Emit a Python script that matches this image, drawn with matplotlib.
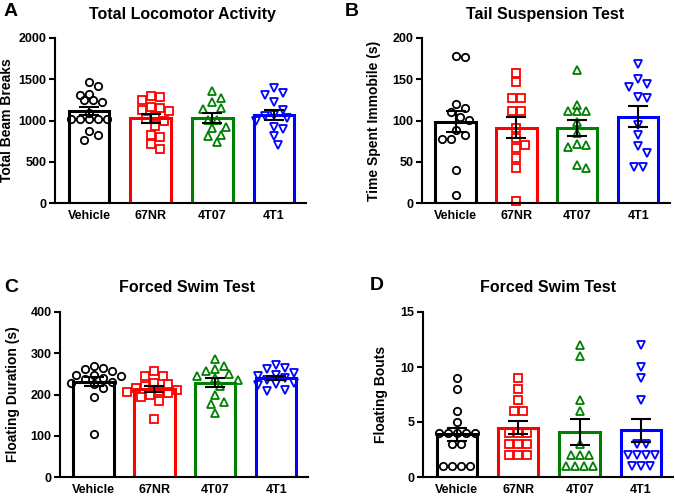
import numpy as np
import matplotlib
matplotlib.use('Agg')
import matplotlib.pyplot as plt

plt.rcParams['font.family'] = ['Liberation Sans', 'DejaVu Sans']
plt.rcParams['font.weight'] = 'bold'

groups = ['Vehicle', '67NR', '4T07', '4T1']
colors = ['black', 'red', 'green', 'blue']
markers = ['o', 's', '^', 'v']

# A - Total Locomotor Activity (beam breaks)
loco_vehicle = [1467, 1414, 1321, 1309, 1244, 1220, 1244, 1018, 1018, 1018, 1018, 1018, 1091, 869, 768, 828]
loco_67nr = [1293, 1281, 1244, 1160, 1152, 1130, 1110, 1060, 1020, 1000, 930, 830, 800, 710, 650]
loco_4t07 = [1362, 1273, 1224, 1152, 1139, 1010, 1010, 921, 909, 828, 808, 735]
loco_4t1 = [1394, 1313, 1333, 1220, 1131, 1063, 1050, 1030, 990, 921, 897, 808, 707]

# B - Tail Suspension Test (s)
tst_vehicle = [178.6, 177, 120, 115, 104, 101, 110, 82, 77.6, 78, 88, 40, 10]
tst_67nr = [157.6, 146.7, 127, 127, 111.5, 111.5, 91, 79, 70.7, 66.7, 55, 42, 3]
tst_4t07 = [161, 119, 111, 111, 111, 98, 85, 70, 68, 72, 43, 46]
tst_4t1 = [169, 150, 144, 141, 128, 127, 95, 83, 69, 61, 44, 44]

# C - Forced Swim Test, floating duration (s)
fst_vehicle = [270, 265, 263, 258, 248, 247, 245, 241, 237, 230, 227, 225, 215, 195, 105]
fst_67nr = [258, 246, 244, 228, 225, 220, 215, 212, 208, 205, 203, 200, 195, 185, 140]
fst_4t07 = [285, 270, 262, 256, 250, 245, 240, 235, 220, 198, 181, 178, 155]
fst_4t1 = [272, 265, 263, 251, 248, 245, 240, 235, 228, 225, 222, 212, 209]

# D - Forced Swim Test, floating bouts
bouts_vehicle = [9, 8, 6, 5, 4, 4, 4, 4, 4, 3, 3, 1, 1, 1, 1]
bouts_67nr = [9, 8, 7, 6, 6, 4, 4, 4, 3, 3, 3, 2, 2, 2]
bouts_4t07 = [12, 11, 7, 6, 3, 2, 2, 2, 1, 1, 1, 1]
bouts_4t1 = [12, 10, 9, 7, 3, 3, 2, 2, 2, 2, 1, 1, 1]

panels = [
    ('A', 'Total Locomotor Activity', 'Total Beam Breaks',
     [loco_vehicle, loco_67nr, loco_4t07, loco_4t1], 2000, 500),
    ('B', 'Tail Suspension Test', 'Time Spent Immobile (s)',
     [tst_vehicle, tst_67nr, tst_4t07, tst_4t1], 200, 50),
    ('C', 'Forced Swim Test', 'Floating Duration (s)',
     [fst_vehicle, fst_67nr, fst_4t07, fst_4t1], 400, 100),
    ('D', 'Forced Swim Test', 'Floating Bouts',
     [bouts_vehicle, bouts_67nr, bouts_4t07, bouts_4t1], 15, 5),
]

W, H = 675, 497
# axes boxes in pixels: left, top, right, bottom
boxes = [(55, 38, 306, 203), (422, 38, 670, 203),
         (60, 312, 308, 477), (423, 312, 673, 477)]
letter_pos = [(4, 12), (345, 12), (4, 288), (370, 285)]
title_pos = [(182, 14), (545, 14), (187, 287), (548, 287)]
ylabel_x = [14, 381, 20, 388]

fig = plt.figure(figsize=(W / 100, H / 100), dpi=100)


def swarm(ax, x0, vals, gap_px):
    # simple beeswarm: tied values get a centred row, others the nearest free offset
    trans = ax.transData
    px_per_x = trans.transform((1, 0))[0] - trans.transform((0, 0))[0]
    step = gap_px / px_per_x
    pts = []
    offs = np.zeros(len(vals))
    for v in sorted(set(vals), reverse=True):
        idx = np.where(vals == v)[0]
        y_px = trans.transform((0, v))[1]
        if len(idx) > 1:
            for j, i in enumerate(idx):
                c = (j - (len(idx) - 1) / 2) * step
                offs[i] = c
                pts.append((c, y_px))
            continue
        cands = [0]
        for k in range(1, 10):
            cands += [k * step / 2, -k * step / 2]
        for c in cands:
            if all(np.hypot((c - xp) * px_per_x, y_px - yp) >= gap_px * 0.98 for xp, yp in pts):
                offs[idx[0]] = c
                pts.append((c, y_px))
                break
    return x0 + offs


for (letter, title, ylabel, data, ymax, ystep), box, lp, tp, ylx in zip(panels, boxes, letter_pos, title_pos, ylabel_x):
    l, t, r, b = box
    ax = fig.add_axes([l / W, 1 - b / H, (r - l) / W, (b - t) / H])
    ax.set_xlim(-0.55, 3.52)
    ax.set_ylim(0, ymax)
    x = np.arange(len(groups))
    means = [np.mean(d) for d in data]
    sems = [np.std(d, ddof=1) / np.sqrt(len(d)) for d in data]
    ax.bar(x, means, width=0.66, color='white', edgecolor=colors, linewidth=2.2, zorder=1)
    for i, d in enumerate(data):
        xs = swarm(ax, x[i], np.array(d, dtype=float), 9)
        ax.plot(xs, d, linestyle='none', marker=markers[i], markersize=5.3,
                markerfacecolor='none', markeredgecolor=colors[i], markeredgewidth=1.3,
                zorder=2, clip_on=False)
    ax.errorbar(x, means, yerr=sems, fmt='none', ecolor='black', elinewidth=1.5,
                capsize=7, capthick=1.5, zorder=3)
    for sp in ['top', 'right']:
        ax.spines[sp].set_visible(False)
    for sp in ['left', 'bottom']:
        ax.spines[sp].set_linewidth(1.5)
    ax.set_yticks(np.arange(0, ymax + 1, ystep))
    ax.set_xticks(x)
    ax.set_xticklabels(groups, fontsize=9, fontweight='bold')
    ax.tick_params(axis='y', labelsize=9, width=1.5, length=4, pad=2)
    ax.tick_params(axis='x', width=1.5, length=0, pad=5)
    for lab in ax.get_yticklabels():
        lab.set_fontweight('bold')
    ax.set_ylabel(ylabel, fontsize=10, fontweight='bold')
    ax.yaxis.set_label_coords((ylx - l) / (r - l), 0.5)
    fig.text(lp[0] / W, 1 - lp[1] / H, letter, fontsize=14, fontweight='bold', va='center', ha='left')
    fig.text(tp[0] / W, 1 - tp[1] / H, title, fontsize=11.5, fontweight='bold', va='center', ha='center')

fig.savefig('out.png', dpi=100)
